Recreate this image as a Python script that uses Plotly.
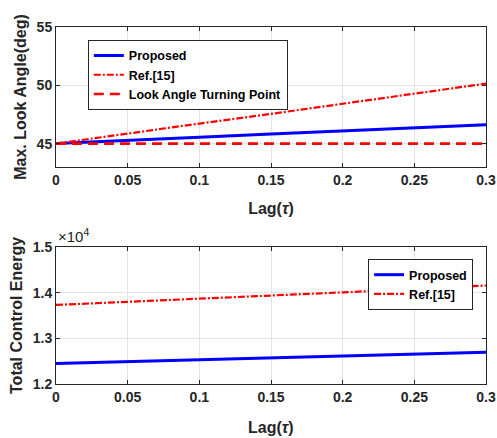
import plotly.graph_objects as go

lag = [0, 0.05, 0.1, 0.15, 0.2, 0.25, 0.3]
angle_proposed = [45.0, 45.25, 45.55, 45.82, 46.1, 46.35, 46.62]
angle_ref15 = [45.0, 45.88, 46.72, 47.55, 48.4, 49.25, 50.15]
angle_turning = [45.0, 45.0, 45.0, 45.0, 45.0, 45.0, 45.0]
energy_proposed = [12450, 12490, 12530, 12570, 12610, 12650, 12695]
energy_ref15 = [13730, 13795, 13865, 13935, 14005, 14080, 14155]

x_ticks = [0, 0.05, 0.1, 0.15, 0.2, 0.25, 0.3]
x_ticktext = ["0", "0.05", "0.1", "0.15", "0.2", "0.25", "0.3"]
angle_ticks = [45, 50, 55]
energy_ticks = [12000, 13000, 14000, 15000]
energy_ticktext = ["1.2", "1.3", "1.4", "1.5"]

FONT = "Liberation Sans, Arial, sans-serif"
AX = "#262626"
GRID = "#e3e3e3"
DASHDOT = "7px,2px,2px,2px"
DASH = "10px,6px"

fig = go.Figure()
fig.add_trace(go.Scatter(x=lag, y=angle_proposed, mode="lines", name="<b>Proposed</b>",
                         line=dict(color="#0000ff", width=3), xaxis="x", yaxis="y", legend="legend"))
fig.add_trace(go.Scatter(x=lag, y=angle_ref15, mode="lines", name="<b>Ref.[15]</b>",
                         line=dict(color="#ff0000", width=2.2, dash=DASHDOT), xaxis="x", yaxis="y", legend="legend"))
fig.add_trace(go.Scatter(x=lag, y=angle_turning, mode="lines", name="<b>Look Angle Turning Point</b>",
                         line=dict(color="#ff0000", width=2.6, dash=DASH), xaxis="x", yaxis="y", legend="legend"))
fig.add_trace(go.Scatter(x=lag, y=energy_proposed, mode="lines", name="<b>Proposed</b>",
                         line=dict(color="#0000ff", width=3), xaxis="x2", yaxis="y2", legend="legend2"))
fig.add_trace(go.Scatter(x=lag, y=energy_ref15, mode="lines", name="<b>Ref.[15]</b>",
                         line=dict(color="#ff0000", width=2.2, dash=DASHDOT), xaxis="x2", yaxis="y2", legend="legend2"))

axcommon = dict(showline=True, linecolor=AX, linewidth=1, mirror="ticks", ticks="inside",
                ticklen=4, tickcolor=AX, showgrid=True, gridcolor=GRID, gridwidth=1, zeroline=False,
                automargin=False,
                tickfont=dict(family=FONT, size=14, color=AX, weight="bold"), color=AX)

legcommon = dict(bgcolor="white", bordercolor=AX, borderwidth=1,
                 font=dict(family=FONT, size=12.5, color="black"),
                 tracegroupgap=0, itemwidth=30)

title_font = dict(family=FONT, size=16, color=AX)

fig.update_layout(
    width=497, height=438,
    margin=dict(l=56, r=11, t=27, b=54, autoexpand=False),
    paper_bgcolor="white", plot_bgcolor="white",
    showlegend=True,
    xaxis=dict(domain=[0, 1], anchor="y", range=[0, 0.3], tickvals=x_ticks, ticktext=x_ticktext,
               title=dict(text="<b>Lag(<i>τ</i>)</b>", font=title_font, standoff=16),
               **axcommon),
    yaxis=dict(domain=[0.608, 1.0], anchor="x", range=[43, 55], tickvals=angle_ticks,
               title=dict(text="<b>Max. Look Angle(deg)</b>", font=title_font, standoff=6),
               **axcommon),
    xaxis2=dict(domain=[0, 1], anchor="y2", range=[0, 0.3], tickvals=x_ticks, ticktext=x_ticktext,
                **axcommon),
    yaxis2=dict(domain=[0, 0.384], anchor="x2", range=[12000, 15000], tickvals=energy_ticks,
                ticktext=energy_ticktext,
                title=dict(text="<b>Total Control Energy</b>", font=title_font, standoff=6),
                **axcommon),
    legend=dict(x=0.074, y=0.964, xanchor="left", yanchor="top", xref="paper", yref="paper", **legcommon),
    legend2=dict(x=0.97, y=0.35, xanchor="right", yanchor="top", xref="paper", yref="paper", **legcommon),
    annotations=[
        dict(text="×10<sup>4</sup>", x=0.0, y=0.384, xref="paper", yref="paper",
             xanchor="left", yanchor="bottom", showarrow=False, yshift=0,
             font=dict(family=FONT, size=15, color=AX)),
        dict(text="<b>Lag(<i>τ</i>)</b>", x=0.5, y=-0.123, xref="paper", yref="paper",
             xanchor="center", yanchor="middle", showarrow=False,
             font=title_font),
    ],
)

fig.write_html("out.html", config={"displayModeBar": False},
               post_script="document.body.style.margin='0';document.body.style.overflow='hidden';")
